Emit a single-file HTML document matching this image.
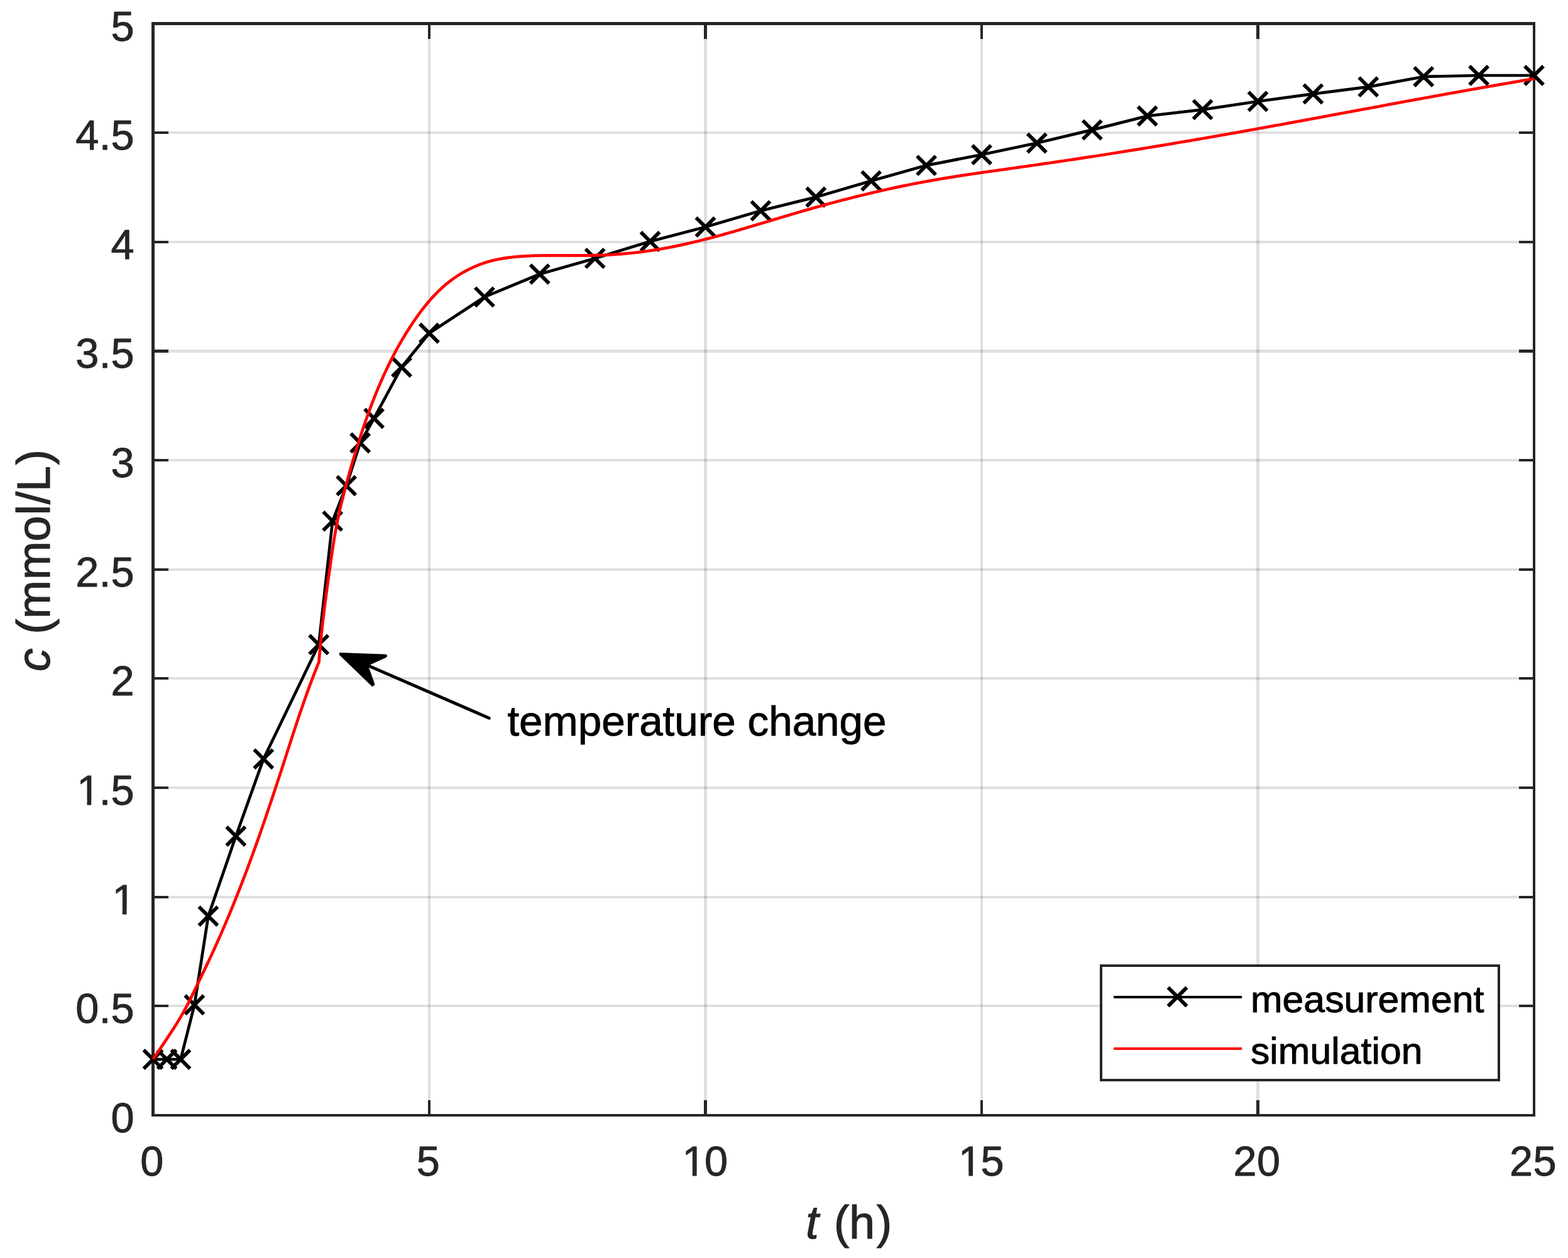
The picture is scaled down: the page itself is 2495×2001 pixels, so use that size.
<!DOCTYPE html>
<html lang="en"><head><meta charset="utf-8"><title>Concentration over time</title>
<style>html,body{margin:0;padding:0;background:#fff;}body{width:2495px;height:2001px;overflow:hidden;}svg{display:block;}text{font-family:"Liberation Sans",Arial,Helvetica,sans-serif;stroke-linejoin:round;}</style></head><body>
<svg xmlns="http://www.w3.org/2000/svg" width="2495" height="2001" viewBox="0 0 2495 2001">
<rect x="0" y="0" width="2495" height="2001" fill="#fff"/>
<g fill="#262626" fill-opacity="0.15" shape-rendering="crispEdges"><rect x="681" y="35" width="4" height="1741"/><rect x="1120" y="35" width="5" height="1741"/><rect x="1560" y="35" width="4" height="1741"/><rect x="1999" y="35" width="5" height="1741"/><rect x="241" y="1598" width="2202" height="4"/><rect x="241" y="1425" width="2202" height="4"/><rect x="241" y="1251" width="2202" height="4"/><rect x="241" y="1077" width="2202" height="4"/><rect x="241" y="904" width="2202" height="4"/><rect x="241" y="730" width="2202" height="4"/><rect x="241" y="556" width="2202" height="5"/><rect x="241" y="383" width="2202" height="4"/><rect x="241" y="209" width="2202" height="4"/></g>
<g fill="#262626" shape-rendering="crispEdges"><rect x="241" y="35" width="5" height="1741"/><rect x="2439" y="35" width="4" height="1741"/><rect x="241" y="35" width="2202" height="5"/><rect x="241" y="1772" width="2202" height="4"/><rect x="681" y="35" width="4" height="27"/><rect x="681" y="1750" width="4" height="26"/><rect x="1120" y="35" width="5" height="27"/><rect x="1120" y="1750" width="5" height="26"/><rect x="1560" y="35" width="4" height="27"/><rect x="1560" y="1750" width="4" height="26"/><rect x="1999" y="35" width="5" height="27"/><rect x="1999" y="1750" width="5" height="26"/><rect x="241" y="1598" width="27" height="4"/><rect x="2417" y="1598" width="26" height="4"/><rect x="241" y="1425" width="27" height="4"/><rect x="2417" y="1425" width="26" height="4"/><rect x="241" y="1251" width="27" height="4"/><rect x="2417" y="1251" width="26" height="4"/><rect x="241" y="1077" width="27" height="4"/><rect x="2417" y="1077" width="26" height="4"/><rect x="241" y="904" width="27" height="4"/><rect x="2417" y="904" width="26" height="4"/><rect x="241" y="730" width="27" height="4"/><rect x="2417" y="730" width="26" height="4"/><rect x="241" y="556" width="27" height="5"/><rect x="2417" y="556" width="26" height="5"/><rect x="241" y="383" width="27" height="4"/><rect x="2417" y="383" width="26" height="4"/><rect x="241" y="209" width="27" height="4"/><rect x="2417" y="209" width="26" height="4"/></g>
<g font-size="66.67" fill="#262626" stroke="#262626" stroke-width="0.9">
<text x="223.25" y="1870.1">0</text>
<text x="662.75" y="1870.1">5</text>
<text x="1085.5 1121" y="1870.1">10</text>
<text x="1525 1560.5" y="1870.1">15</text>
<text x="1962.5 2000" y="1870.1">20</text>
<text x="2402 2439.5" y="1870.1">25</text>
<text x="176.4" y="1801">0</text>
<text x="120.15 157.65 176.4" y="1627.35">0.5</text>
<text x="178.4" y="1453.7">1</text>
<text x="122.15 157.65 176.4" y="1280.05">1.5</text>
<text x="176.4" y="1106.4">2</text>
<text x="120.15 157.65 176.4" y="932.75">2.5</text>
<text x="176.4" y="759.1">3</text>
<text x="120.15 157.65 176.4" y="585.45">3.5</text>
<text x="176.4" y="411.8">4</text>
<text x="120.15 157.65 176.4" y="238.15">4.5</text>
<text x="176.4" y="64.5">5</text>
</g>
<g fill="#fff"><rect x="1088.63" y="1863.47" width="13.19" height="8.28"/><rect x="1108.61" y="1863.47" width="12.67" height="8.28"/><rect x="1528.13" y="1863.47" width="13.19" height="8.28"/><rect x="1548.11" y="1863.47" width="12.67" height="8.28"/><rect x="181.53" y="1447.07" width="13.19" height="8.28"/><rect x="201.51" y="1447.07" width="12.67" height="8.28"/><rect x="125.28" y="1273.42" width="13.19" height="8.28"/><rect x="145.26" y="1273.42" width="12.67" height="8.28"/></g>
<g font-size="73.33" fill="#262626" stroke="#262626" stroke-width="1.2">
<text x="1282.2" y="1969.5"><tspan font-style="italic">t</tspan> <tspan dx="4">(h</tspan><tspan dx="2.55">)</tspan></text>
<text transform="translate(79.4,1067.9) rotate(-90)" dx="0 0 2.11 0.26 0.92 -0.29 1.26 0.75 -0.29 1.76"><tspan font-style="italic">c</tspan> (mmol/L)</text>
</g>
<polyline fill="none" stroke="#000" stroke-width="4.7" stroke-linejoin="round" points="243.5,1685 265.48,1685 287.45,1685 309.43,1598.3 331.4,1457.2 375.35,1330 419.3,1207.2 507.2,1025.3 529.17,828.9 551.15,772.5 573.12,704.5 595.1,665.5 639.05,584 683,530 770.9,472.4 858.8,436 946.7,410.9 1034.6,384 1122.5,361 1210.4,335.2 1298.3,313.5 1386.2,287.7 1474.1,263.1 1562,246 1649.9,227.5 1737.8,206.6 1825.7,184.5 1913.6,174.4 2001.5,161.3 2089.4,149.4 2177.3,138.1 2265.2,121.95 2353.1,120 2441,120"/>
<path fill="none" stroke="#000" stroke-width="5.8" d="M228.6 1670.1l29.8 29.8M228.6 1699.9l29.8 -29.8M250.58 1670.1l29.8 29.8M250.58 1699.9l29.8 -29.8M272.55 1670.1l29.8 29.8M272.55 1699.9l29.8 -29.8M294.53 1583.4l29.8 29.8M294.53 1613.2l29.8 -29.8M316.5 1442.3l29.8 29.8M316.5 1472.1l29.8 -29.8M360.45 1315.1l29.8 29.8M360.45 1344.9l29.8 -29.8M404.4 1192.3l29.8 29.8M404.4 1222.1l29.8 -29.8M492.3 1010.4l29.8 29.8M492.3 1040.2l29.8 -29.8M514.27 814l29.8 29.8M514.27 843.8l29.8 -29.8M536.25 757.6l29.8 29.8M536.25 787.4l29.8 -29.8M558.23 689.6l29.8 29.8M558.23 719.4l29.8 -29.8M580.2 650.6l29.8 29.8M580.2 680.4l29.8 -29.8M624.15 569.1l29.8 29.8M624.15 598.9l29.8 -29.8M668.1 515.1l29.8 29.8M668.1 544.9l29.8 -29.8M756 457.5l29.8 29.8M756 487.3l29.8 -29.8M843.9 421.1l29.8 29.8M843.9 450.9l29.8 -29.8M931.8 396l29.8 29.8M931.8 425.8l29.8 -29.8M1019.7 369.1l29.8 29.8M1019.7 398.9l29.8 -29.8M1107.6 346.1l29.8 29.8M1107.6 375.9l29.8 -29.8M1195.5 320.3l29.8 29.8M1195.5 350.1l29.8 -29.8M1283.4 298.6l29.8 29.8M1283.4 328.4l29.8 -29.8M1371.3 272.8l29.8 29.8M1371.3 302.6l29.8 -29.8M1459.2 248.2l29.8 29.8M1459.2 278l29.8 -29.8M1547.1 231.1l29.8 29.8M1547.1 260.9l29.8 -29.8M1635 212.6l29.8 29.8M1635 242.4l29.8 -29.8M1722.9 191.7l29.8 29.8M1722.9 221.5l29.8 -29.8M1810.8 169.6l29.8 29.8M1810.8 199.4l29.8 -29.8M1898.7 159.5l29.8 29.8M1898.7 189.3l29.8 -29.8M1986.6 146.4l29.8 29.8M1986.6 176.2l29.8 -29.8M2074.5 134.5l29.8 29.8M2074.5 164.3l29.8 -29.8M2162.4 123.2l29.8 29.8M2162.4 153l29.8 -29.8M2250.3 107.05l29.8 29.8M2250.3 136.85l29.8 -29.8M2338.2 105.1l29.8 29.8M2338.2 134.9l29.8 -29.8M2426.1 105.1l29.8 29.8M2426.1 134.9l29.8 -29.8"/>
<polyline fill="none" stroke="#ff0000" stroke-width="4.7" stroke-linejoin="round" points="243.5,1684.8 248.29,1677.7 253.14,1670.57 258.01,1663.4 262.9,1656.19 267.76,1648.92 272.58,1641.58 277.34,1634.17 282,1626.7 286.55,1619.16 290.96,1611.58 295.2,1603.95 299.26,1596.3 303.14,1588.61 306.89,1580.91 310.6,1573.17 314.31,1565.41 318.07,1557.63 321.86,1549.82 325.65,1541.99 329.42,1534.14 333.14,1526.27 336.82,1518.37 340.46,1510.46 344.06,1502.53 347.62,1494.57 351.15,1486.6 354.63,1478.61 358.08,1470.61 361.48,1462.58 364.85,1454.54 368.19,1446.49 371.49,1438.42 374.75,1430.33 377.97,1422.24 381.17,1414.13 384.33,1406 387.46,1397.87 390.56,1389.72 393.63,1381.56 396.67,1373.39 399.68,1365.22 402.67,1357.03 405.63,1348.83 408.56,1340.63 411.48,1332.42 414.37,1324.2 417.23,1315.98 420.08,1307.75 422.91,1299.51 425.72,1291.27 428.51,1283.03 431.29,1274.78 434.04,1266.53 436.79,1258.28 439.52,1250.03 442.24,1241.77 444.94,1233.52 447.64,1225.26 450.33,1217.01 453,1208.75 455.67,1200.5 458.34,1192.25 461.01,1184 463.68,1175.76 466.37,1167.52 469.07,1159.28 471.79,1151.05 474.53,1142.83 477.3,1134.61 480.1,1126.4 482.94,1118.2 485.82,1110 488.75,1101.81 491.72,1093.64 494.75,1085.47 497.84,1077.31 500.99,1069.16 504.21,1061.02 507.5,1052.9 507.86,1048.09 508.25,1043.28 508.65,1038.47 509.07,1033.66 509.5,1028.85 509.95,1024.04 510.42,1019.22 510.9,1014.41 511.39,1009.6 511.9,1004.78 512.42,999.97 512.96,995.15 513.5,990.34 514.06,985.52 514.63,980.71 515.21,975.9 515.81,971.08 516.41,966.27 517.02,961.46 517.63,956.65 518.26,951.84 518.9,947.03 519.54,942.22 520.18,937.42 520.84,932.61 521.5,927.81 522.16,923 522.83,918.2 523.5,913.41 524.18,908.61 524.86,903.81 525.54,899.02 526.22,894.23 526.9,889.44 527.59,884.66 528.28,879.88 528.98,875.09 529.69,870.32 530.42,865.54 531.17,860.77 531.94,856 532.74,851.24 533.57,846.48 534.44,841.72 535.33,836.96 536.27,832.21 537.23,827.46 538.23,822.72 539.25,817.98 540.3,813.24 541.39,808.51 542.49,803.78 543.63,799.06 544.79,794.34 545.96,789.63 547.16,784.92 548.38,780.22 549.62,775.52 550.87,770.82 552.14,766.13 553.42,761.45 554.72,756.77 556.03,752.1 557.35,747.43 558.69,742.77 560.04,738.11 561.41,733.46 562.79,728.82 564.18,724.18 565.59,719.55 567.01,714.93 568.44,710.31 569.88,705.7 571.34,701.09 572.81,696.49 574.3,691.9 575.8,687.31 577.32,682.74 578.86,678.17 580.42,673.6 581.99,669.05 583.59,664.5 585.2,659.96 586.84,655.43 588.5,650.9 590.18,646.38 591.89,641.88 593.63,637.37 595.39,632.88 597.17,628.4 598.99,623.92 600.83,619.46 602.7,615 604.6,610.55 606.54,606.12 608.5,601.7 610.49,597.28 612.51,592.89 614.56,588.5 616.65,584.13 618.77,579.77 620.92,575.43 623.1,571.11 625.32,566.8 627.57,562.5 629.86,558.23 632.19,553.97 634.54,549.73 636.94,545.51 639.37,541.32 641.84,537.14 644.35,532.98 646.89,528.85 649.47,524.73 652.1,520.64 654.76,516.58 657.46,512.53 660.2,508.52 662.99,504.53 665.82,500.58 668.7,496.66 671.62,492.78 674.6,488.95 677.64,485.16 680.73,481.43 683.88,477.75 687.09,474.14 690.36,470.58 693.7,467.09 697.1,463.68 700.58,460.34 704.13,457.08 707.75,453.9 711.45,450.8 715.22,447.8 719.08,444.89 723.02,442.08 727.03,439.37 731.11,436.75 735.25,434.25 739.47,431.85 743.74,429.56 748.06,427.39 752.44,425.33 756.87,423.38 761.35,421.56 765.86,419.86 770.41,418.29 775,416.85 779.62,415.53 784.27,414.33 788.95,413.24 793.65,412.26 798.38,411.39 803.12,410.6 807.89,409.91 812.68,409.3 817.49,408.77 822.3,408.3 827.13,407.91 831.98,407.57 836.83,407.29 841.68,407.06 846.55,406.87 851.41,406.72 856.28,406.6 861.14,406.5 866.01,406.43 870.88,406.39 875.75,406.36 880.62,406.35 885.5,406.35 890.37,406.36 895.24,406.38 900.11,406.4 904.98,406.42 909.85,406.44 914.72,406.45 919.58,406.45 924.45,406.44 929.31,406.42 934.17,406.37 939.03,406.31 943.89,406.21 948.75,406.09 953.6,405.95 958.45,405.77 963.29,405.56 968.14,405.31 972.97,405.04 977.81,404.74 982.64,404.41 987.47,404.04 992.29,403.64 997.11,403.21 1001.92,402.75 1006.73,402.25 1011.53,401.73 1016.32,401.16 1021.11,400.57 1025.9,399.94 1030.68,399.28 1035.45,398.59 1040.21,397.86 1044.97,397.1 1049.72,396.3 1054.47,395.48 1059.21,394.62 1063.95,393.73 1068.67,392.82 1073.4,391.87 1078.12,390.9 1082.83,389.91 1087.54,388.88 1092.24,387.84 1096.94,386.77 1101.64,385.67 1106.33,384.56 1111.02,383.42 1115.7,382.26 1120.38,381.08 1125.06,379.88 1129.74,378.67 1134.41,377.44 1139.08,376.19 1143.74,374.93 1148.4,373.65 1153.07,372.36 1157.72,371.05 1162.38,369.73 1167.04,368.4 1171.69,367.06 1176.34,365.72 1181,364.36 1185.65,362.99 1190.3,361.62 1194.95,360.24 1199.6,358.86 1204.24,357.47 1208.89,356.08 1213.54,354.68 1218.19,353.28 1222.84,351.88 1227.49,350.49 1232.14,349.09 1236.8,347.69 1241.45,346.29 1246.1,344.9 1250.76,343.51 1255.42,342.13 1260.08,340.75 1264.74,339.38 1269.41,338.02 1274.08,336.66 1278.75,335.31 1283.42,333.97 1288.09,332.64 1292.77,331.32 1297.45,330 1302.13,328.7 1306.82,327.4 1311.51,326.11 1316.2,324.84 1320.89,323.57 1325.58,322.31 1330.28,321.06 1334.98,319.83 1339.68,318.6 1344.38,317.38 1349.09,316.17 1353.79,314.98 1358.5,313.79 1363.21,312.62 1367.93,311.45 1372.64,310.3 1377.36,309.16 1382.08,308.03 1386.8,306.91 1391.52,305.8 1396.25,304.71 1400.98,303.63 1405.7,302.56 1410.43,301.5 1415.17,300.46 1419.9,299.42 1424.64,298.4 1429.38,297.4 1434.11,296.4 1438.86,295.42 1443.6,294.46 1448.34,293.5 1453.09,292.56 1457.84,291.64 1462.58,290.73 1467.33,289.83 1472.09,288.95 1476.84,288.08 1481.59,287.22 1486.35,286.38 1491.11,285.56 1495.87,284.74 1500.63,283.94 1505.39,283.16 1510.15,282.38 1514.91,281.62 1519.68,280.86 1524.45,280.12 1529.21,279.38 1533.98,278.65 1538.75,277.94 1543.52,277.22 1548.3,276.52 1553.07,275.82 1557.84,275.13 1562.62,274.44 1567.39,273.76 1572.17,273.08 1576.95,272.4 1581.73,271.73 1586.51,271.06 1591.29,270.39 1596.07,269.72 1600.85,269.05 1605.63,268.38 1610.42,267.71 1615.2,267.04 1619.98,266.37 1624.77,265.69 1629.56,265.01 1634.34,264.33 1639.13,263.65 1643.92,262.96 1648.71,262.27 1653.5,261.58 1658.28,260.89 1663.07,260.19 1667.86,259.49 1672.66,258.79 1677.45,258.09 1682.24,257.38 1687.03,256.67 1691.82,255.96 1696.61,255.24 1701.41,254.53 1706.2,253.81 1710.99,253.08 1715.78,252.36 1720.58,251.63 1725.37,250.9 1730.16,250.17 1734.96,249.44 1739.75,248.7 1744.54,247.96 1749.34,247.22 1754.13,246.47 1758.92,245.72 1763.72,244.97 1768.51,244.22 1773.3,243.47 1778.1,242.71 1782.89,241.95 1787.68,241.19 1792.47,240.42 1797.26,239.66 1802.06,238.89 1806.85,238.11 1811.64,237.34 1816.43,236.56 1821.22,235.78 1826.01,235 1830.8,234.22 1835.58,233.43 1840.37,232.64 1845.16,231.85 1849.95,231.06 1854.73,230.26 1859.52,229.46 1864.3,228.66 1869.09,227.86 1873.87,227.05 1878.66,226.25 1883.44,225.44 1888.22,224.62 1893,223.81 1897.78,222.99 1902.56,222.17 1907.34,221.35 1912.12,220.53 1916.89,219.7 1921.67,218.87 1926.44,218.04 1931.22,217.21 1935.99,216.37 1940.76,215.53 1945.54,214.7 1950.31,213.85 1955.08,213.01 1959.85,212.17 1964.62,211.32 1969.39,210.47 1974.15,209.62 1978.92,208.77 1983.69,207.92 1988.46,207.06 1993.22,206.21 1997.99,205.35 2002.75,204.49 2007.52,203.63 2012.28,202.77 2017.04,201.91 2021.81,201.04 2026.57,200.17 2031.33,199.31 2036.09,198.44 2040.85,197.57 2045.61,196.7 2050.37,195.83 2055.13,194.96 2059.89,194.09 2064.65,193.21 2069.41,192.34 2074.17,191.46 2078.93,190.59 2083.69,189.71 2088.44,188.83 2093.2,187.95 2097.96,187.07 2102.72,186.2 2107.47,185.32 2112.23,184.44 2116.99,183.56 2121.74,182.67 2126.5,181.79 2131.26,180.91 2136.01,180.03 2140.77,179.15 2145.53,178.27 2150.28,177.39 2155.04,176.5 2159.8,175.62 2164.55,174.74 2169.31,173.86 2174.07,172.98 2178.82,172.09 2183.58,171.21 2188.34,170.33 2193.09,169.45 2197.85,168.57 2202.61,167.69 2207.36,166.81 2212.12,165.93 2216.88,165.06 2221.64,164.18 2226.39,163.3 2231.15,162.43 2235.91,161.55 2240.67,160.67 2245.43,159.8 2250.19,158.93 2254.95,158.05 2259.71,157.18 2264.47,156.31 2269.23,155.44 2273.99,154.58 2278.75,153.71 2283.51,152.84 2288.28,151.98 2293.04,151.11 2297.8,150.25 2302.57,149.39 2307.33,148.53 2312.1,147.67 2316.86,146.82 2321.63,145.96 2326.39,145.11 2331.16,144.25 2335.93,143.4 2340.7,142.56 2345.47,141.71 2350.23,140.86 2355.01,140.02 2359.78,139.18 2364.55,138.34 2369.32,137.5 2374.09,136.67 2378.87,135.83 2383.64,135 2388.42,134.17 2393.19,133.34 2397.97,132.52 2402.75,131.7 2407.53,130.88 2412.31,130.06 2417.09,129.24 2421.87,128.43 2426.65,127.62 2431.43,126.81 2436.22,126 2441,125.2"/>
<line x1="778.3" y1="1142.2" x2="587.6" y2="1059.6" stroke="#000" stroke-width="4.9" stroke-linecap="round"/>
<polygon points="540,1038 614.6,1040.8 616.3,1043.4 614.6,1045.7 588.3,1057.7 586.9,1061.8 596.1,1087.6 596.1,1089.7 592.3,1092.2 540,1041.8" fill="#000"/>
<text x="807.4" y="1169.7" font-size="67.4" fill="#000" stroke="#000" stroke-width="0.9">temperature change</text>
<rect x="1752" y="1536" width="633" height="182" fill="#fff" stroke="#262626" stroke-width="4" shape-rendering="crispEdges"/>
<rect x="1772" y="1584" width="204" height="4" fill="#000" shape-rendering="crispEdges"/>
<path fill="none" stroke="#000" stroke-width="5.8" d="M1858.6 1570.6l29.8 29.8M1858.6 1600.4l29.8 -29.8"/>
<rect x="1772" y="1666" width="204" height="4" fill="#ff0000" shape-rendering="crispEdges"/>
<g font-size="60.75" fill="#000" stroke="#000" stroke-width="1.0"><text transform="translate(1990,1610.2) scale(1,0.962)">measurement</text><text transform="translate(1990,1692) scale(1,0.962)">simulation</text></g>
</svg></body></html>
